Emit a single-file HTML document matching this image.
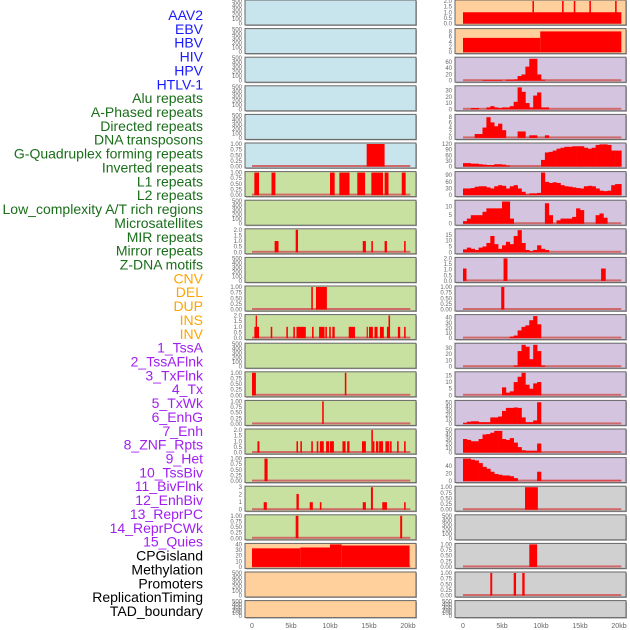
<!DOCTYPE html>
<html><head><meta charset="utf-8"><style>
html,body{margin:0;padding:0;background:#fff;}
svg{display:block;font-family:"Liberation Sans",sans-serif;}
</style></head><body>
<svg id="chart" width="630" height="630" viewBox="0 0 630 630" xmlns="http://www.w3.org/2000/svg"></svg>
<script>
// ---- row labels ----
const labels = ["AAV2","EBV","HBV","HIV","HPV","HTLV-1","Alu repeats","A-Phased repeats","Directed repeats","DNA transposons","G-Quadruplex forming repeats","Inverted repeats","L1 repeats","L2 repeats","Low_complexity A/T rich regions","Microsatellites","MIR repeats","Mirror repeats","Z-DNA motifs","CNV","DEL","DUP","INS","INV","1_TssA","2_TssAFlnk","3_TxFlnk","4_Tx","5_TxWk","6_EnhG","7_Enh","8_ZNF_Rpts","9_Het","10_TssBiv","11_BivFlnk","12_EnhBiv","13_ReprPC","14_ReprPCWk","15_Quies","CPGisland","Methylation","Promoters","ReplicationTiming","TAD_boundary"];
const labelColors = ["#1a1aff","#1a1aff","#1a1aff","#1a1aff","#1a1aff","#1a1aff","#1a6e1a","#1a6e1a","#1a6e1a","#1a6e1a","#1a6e1a","#1a6e1a","#1a6e1a","#1a6e1a","#1a6e1a","#1a6e1a","#1a6e1a","#1a6e1a","#1a6e1a","#ffa500","#ffa500","#ffa500","#ffa500","#ffa500","#a020f0","#a020f0","#a020f0","#a020f0","#a020f0","#a020f0","#a020f0","#a020f0","#a020f0","#a020f0","#a020f0","#a020f0","#a020f0","#a020f0","#a020f0","#000","#000","#000","#000","#000"];
const xTicks = [0,5,10,15,20];
const xTickLabels = ["0","5kb","10kb","15kb","20kb"];

// ---- tick sets ----
const tEmpty = [0,100,200,300,400,500];
const tOne = [0,0.25,0.5,0.75,1];
const tTwo = [0,0.5,1,1.5,2];

// ---- left column segments [start kb, end kb, value] ----
const L5 = [[14.7,17.0,1]];
const L6 = [[0.3,0.9,1],[2.5,3.0,1],[10.0,10.6,1],[11.2,12.5,1],[13.5,14.5,1],[15.3,16.8,1],[17.0,17.5,1],[19.2,19.7,1]];
const L8 = [[2.9,3.4,1],[5.6,5.9,2],[14.2,14.6,1],[15.3,15.5,1],[17.0,17.3,1],[19.5,19.7,1]];
const L10 = [[7.6,7.8,1],[8.2,9.6,1]];
const L11 = [[0.3,0.9,1],[0.47,0.64,2],[2.4,2.6,1],[4.4,4.6,1],[5.3,5.5,1],[5.7,6.9,1],[7.7,7.9,1],[8.6,9.3,1],[9.4,9.6,1],[9.9,10.1,1],[10.3,10.6,1],[12.4,13.2,1],[14.7,14.85,1],[15.0,15.5,1],[15.7,16.1,1],[16.4,16.9,1],[17.3,17.6,1],[17.5,17.7,2],[18.7,19.0,1],[19.5,19.7,1]];
const L13 = [[0,0.5,1],[11.9,12.1,1]];
const L14 = [[9.0,9.2,1]];
const L15 = [[0.7,0.95,1],[5.7,5.9,1],[6.2,6.4,1],[7.6,7.8,1],[8.3,8.5,1],[8.7,9.2,1],[9.5,9.9,1],[10.0,10.5,1],[11.6,12.0,1],[12.2,12.5,1],[14.1,14.6,1],[15.3,15.5,2],[15.5,15.7,1],[15.9,16.2,1],[16.3,16.8,1],[17.1,17.6,1],[17.7,17.9,1],[18.6,18.8,1],[19.5,19.7,1]];
const L16 = [[1.6,2.0,1]];
const L17 = [[1.5,1.9,1],[5.7,6.0,2.1],[7.4,7.8,1],[8.7,8.9,1],[14.2,14.6,1],[15.25,15.5,3],[16.7,17.3,1],[19.5,19.7,1]];
const L18 = [[5.6,5.95,1],[19.0,19.25,1]];
const L19 = [[0,6.2,33],[6.2,10.0,34.5],[10.0,11.5,40],[11.5,20.2,38]];

// ---- right column segments ----
const R0 = [[0,20.3,1],[8.9,9.1,2],[12.7,12.9,2],[14.2,14.4,2],[16.2,16.4,2],[19.5,19.7,2]];
const R1 = [[0,9.9,5.5],[9.9,20.3,8]];
const R9 = [[0,0.45,1.1],[5.2,5.7,2],[17.7,18.3,1.1]];
const R10 = [[4.9,5.3,1]];
const R17 = [[7.95,9.6,1]];
const R19 = [[8.5,9.5,1]];
const R20 = [[3.5,3.75,1],[6.5,6.8,1],[7.6,7.9,1]];

// ---- right column histograms (0.5 kb bins from 0 kb) ----
const R2 = [0,0,0,0,0,2,2,2,2,2,0,3,3,4,15,20,45,70,70,20,3];
const R3 = [0,0,2,2,0,0,3,5,3,2,3,3,5,12,35,28,10,3,22,27,3,3];
const R4 = [0,0,0,1.5,1.5,4,8,6,4.5,5.5,3,0,0,0,2.5,2.5,0,1,1,0,0,1];
const R5 = [18,18,15,15,12,10,8,8,12,12,10,5,0,0,0,0,0,0,0,0,35,75,78,85,95,100,105,105,108,108,108,100,95,100,115,118,118,115,85,85,85];
const R6 = [30,30,32,38,40,40,35,30,40,45,42,30,40,45,30,15,3,8,8,10,102,60,55,58,55,45,40,38,35,32,30,40,42,40,30,20,18,20,45,50,50];
const R7 = [1.5,3,5,5,5,7,9,9,9,9,13,13,3,0,0,0,0,0,0,0,0,12,5,0,2,3,3,3,4,9,8,0,0,0,5,6,3.5,0,0,0];
const R8 = [2.5,4,3,2,4,5,8,14,7,3,6,9,7,14,19,8,2,1,2,6,3,2];
const R11 = [0,0,0,0,0,0,0,0,0,0,0,0,3,5,15,22,25,35,43,27];
const R12 = [0,0,0,0,0,0,0,0,0,0,0,0,0,2,25,35,32,12,35,25,2];
const R13 = [0,0,0,0,0,0,0,0,0,0,6,2,3,10,14,17,8,5,9,10];
const R14 = [2,5,6,6,4,4,4,15,15,17,30,37,37,38,37,15,4,4,8,50];
const R15 = [30,28,25,25,30,40,41,44,48,48,30,28,32,22,12,5,4,4,4,20];
const R16 = [60,60,57,55,48,38,33,25,19,17,15,15,13,8,0,0,0,0,0,25,1,1,1,1,1,1,1,1,1,1,1,1,1,1,1,1,1,1,1,1,1];

// ---- panel configuration: [column, row, bg, ticks, vmax, segs, bins] ----
const BLUE="#c8e4ec", GREEN="#c8e0a0", PEACH="#ffd09c", LAV="#d4c4e0", GRAY="#d0d0d0";
const panels = [
 [0,0,BLUE,tEmpty,500,null,null],[0,1,BLUE,tEmpty,500,null,null],[0,2,BLUE,tEmpty,500,null,null],
 [0,3,BLUE,tEmpty,500,null,null],[0,4,BLUE,tEmpty,500,null,null],[0,5,BLUE,tOne,1,L5,null],
 [0,6,GREEN,tOne,1,L6,null],[0,7,GREEN,tEmpty,500,null,null],[0,8,GREEN,tTwo,2,L8,null],
 [0,9,GREEN,tEmpty,500,null,null],[0,10,GREEN,tOne,1,L10,null],[0,11,GREEN,tTwo,2,L11,null],
 [0,12,GREEN,tEmpty,500,null,null],[0,13,GREEN,tOne,1,L13,null],[0,14,GREEN,tOne,1,L14,null],
 [0,15,GREEN,tTwo,2,L15,null],[0,16,GREEN,tOne,1,L16,null],[0,17,GREEN,[0,1,2,3],3,L17,null],
 [0,18,GREEN,tOne,1,L18,null],[0,19,PEACH,[0,10,20,30,40],40,L19,null],
 [0,20,PEACH,tEmpty,500,null,null],[0,21,PEACH,tEmpty,500,null,null],
 [1,0,PEACH,tTwo,2,R0,null],[1,1,PEACH,[0,2,4,6,8],8.7,R1,null],
 [1,2,LAV,[0,20,40,60],72,null,R2],[1,3,LAV,[0,10,20,30],36,null,R3],
 [1,4,LAV,[0,2,4,6,8],8.7,null,R4],[1,5,LAV,[0,30,60,90,120],120,null,R5],
 [1,6,LAV,[0,30,60,90],102,null,R6],[1,7,LAV,[0,5,10],13.2,null,R7],
 [1,8,LAV,[0,5,10,15],19.3,null,R8],[1,9,LAV,tTwo,2,R9,null],
 [1,10,LAV,tOne,1,R10,null],[1,11,LAV,[0,10,20,30,40],44,null,R11],
 [1,12,LAV,[0,10,20,30],36,null,R12],[1,13,LAV,[0,5,10,15],17,null,R13],
 [1,14,LAV,[0,10,20,30,40,50],52,null,R14],[1,15,LAV,[0,10,20,30,40,50],50,null,R15],
 [1,16,LAV,[0,20,40],60,null,R16],[1,17,GRAY,tOne,1,R17,null],
 [1,18,GRAY,tEmpty,500,null,null],[1,19,GRAY,tOne,1,R19,null],
 [1,20,GRAY,tOne,1,R20,null],[1,21,GRAY,tEmpty,500,null,null]
];

const NS="http://www.w3.org/2000/svg";
const svg=document.getElementById('chart');
function mk(tag,attrs,parent){const e=document.createElementNS(NS,tag);for(const k in attrs)e.setAttribute(k,attrs[k]);(parent||svg).appendChild(e);return e;}
const colLeft=[245,455], colW=171, x0=[252,463], pxPerKb=7.8;
function xs(c,kb){return x0[c]+kb*pxPerKb;}
function rowTop(r){return r*28.6;}
function rowH(r){return r===21?17:25;}
function fmt(v,ticks){
  const dec = ticks.some(t=>t%1!==0) ? (ticks.some(t=>(t*10)%1!==0)?2:1) : 0;
  if(ticks===tOne) return v.toFixed(2);
  return dec? v.toFixed(dec): String(v);
}

// labels
labels.forEach((t,i)=>{
  const e=mk('text',{x:203,y:15+i*13.86+5,'text-anchor':'end','font-size':14,fill:labelColors[i]});
  e.textContent=t;
  
  
});

panels.forEach((p,idx)=>{
  const [c,r,bg,ticks,vmax,segs,bins]=p;
  const top=rowTop(r), h=rowH(r), left=colLeft[c];
  const g=mk('g',{});
  
  
  mk('rect',{x:left+1,y:top+1,width:colW,height:h,fill:'#aaa'},g);
  const bgR=mk('rect',{x:left,y:top,width:colW,height:h,fill:bg,stroke:'#666','stroke-width':1},g);
  
  
  const base=top+h-1.5, span=h-2.5;
  const ys=v=>base-Math.min(v,vmax)/vmax*span;
  // ticks
  ticks.forEach(t=>{
    const tx=mk('text',{x:left-3,y:ys(t)+2,'text-anchor':'end','font-size':6,fill:'#666'},g);
    tx.textContent=fmt(t,ticks);
    
    
  });
  if(segs||bins){
    mk('rect',{x:xs(c,0),y:base-1.5,width:xs(c,20.3)-xs(c,0),height:2,fill:'#d06a6a'},g);
  }
  if(segs){
    segs.forEach(s=>{
      const b=mk('rect',{x:xs(c,s[0]),y:ys(s[2]),width:Math.max(1.2,xs(c,s[1])-xs(c,s[0])),height:base-ys(s[2]),fill:'#ff0000'},g);
      
      
    });
  }
  if(bins){
    bins.forEach((v,i)=>{
      if(v<=0)return;
      const s=i*0.5, e=Math.min(20.3,s+0.5);
      const b=mk('rect',{x:xs(c,s),y:ys(v),width:xs(c,e)-xs(c,s)+0.3,height:base-ys(v),fill:'#ff0000'},g);
      
      
    });
  }
});

// x axes
[0,1].forEach(c=>{
  xTicks.forEach((t,i)=>{
    const e=mk('text',{x:xs(c,t),y:628,'text-anchor':'middle','font-size':7,fill:'#666'});
    e.textContent=xTickLabels[i];
    
    
  });
});
</script>
</body></html>
